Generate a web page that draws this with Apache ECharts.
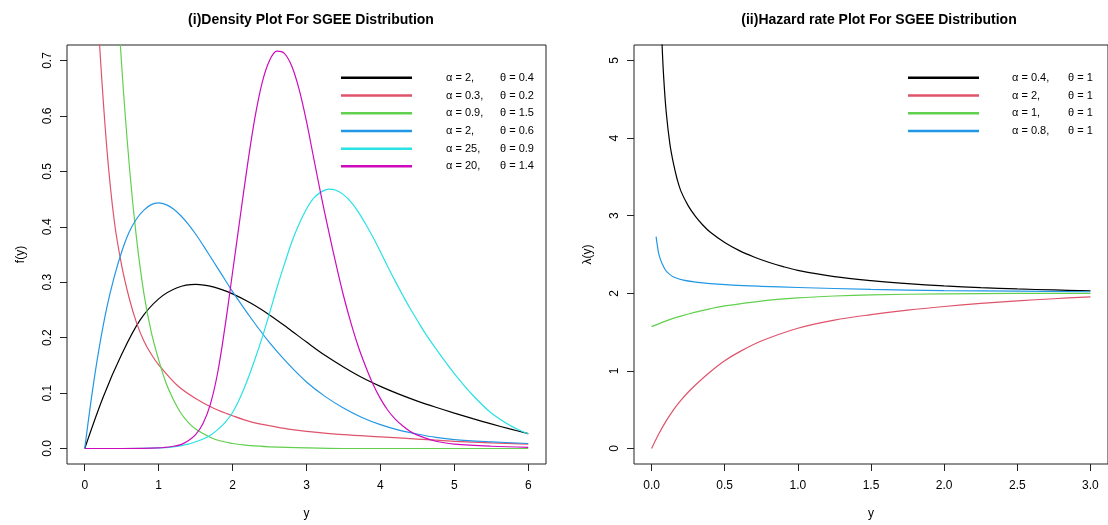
<!DOCTYPE html>
<html><head><meta charset="utf-8">
<script src="https://cdn.jsdelivr.net/npm/echarts@6/dist/echarts.min.js"></script>
<style>html,body{margin:0;padding:0;background:#fff}#c{width:1108px;height:525px}</style>
</head><body><div id="c"></div>
<script>
// ---------- tick labels ----------
const densXTicks = [0, 1, 2, 3, 4, 5, 6];
const densYTicks = [0, 0.1, 0.2, 0.3, 0.4, 0.5, 0.6, 0.7];
const hazXTicks = [0, 0.5, 1, 1.5, 2, 2.5, 3];
const hazYTicks = [0, 1, 2, 3, 4, 5];

// ---------- legend names ----------
const densNames = ['α = 2,|θ = 0.4', 'α = 0.3,|θ = 0.2', 'α = 0.9,|θ = 1.5', 'α = 2, |θ = 0.6', 'α = 25,|θ = 0.9', 'α = 20,|θ = 1.4'];
const hazNames = ['α = 0.4,|θ = 1', 'α = 2,|θ = 1', 'α = 1,|θ = 1', 'α = 0.8,|θ = 1'];
const colors = ['#000000', '#DF536B', '#61D04F', '#2297E6', '#28E2E5', '#CD0BBC'];

// ---------- (i) density values [y, f(y)] ----------
const densBlack = [[0,0],[0.25,0.093],[0.5,0.17],[0.75,0.232],[1.0,0.27],[1.25,0.29],[1.5,0.296],[1.75,0.291],[2.0,0.279],[2.25,0.262],[2.5,0.241],[2.75,0.217],[3.0,0.192],[3.25,0.168],[3.5,0.147],[3.75,0.128],[4.0,0.112],[4.25,0.098],[4.5,0.0855],[4.75,0.0743],[5.0,0.0638],[5.25,0.0538],[5.5,0.0443],[5.75,0.0353],[6.0,0.0268]];
const densRed = [[0.1,1.05],[0.15,0.86],[0.2,0.73],[0.3,0.54],[0.4,0.41],[0.5,0.33],[0.6,0.272],[0.7,0.227],[0.8,0.194],[0.9,0.17],[1.0,0.151],[1.25,0.114],[1.5,0.09],[1.75,0.072],[2.0,0.059],[2.25,0.048],[2.5,0.041],[2.75,0.035],[3.0,0.031],[3.5,0.025],[4.0,0.021],[4.5,0.017],[5.0,0.013],[5.5,0.01],[6.0,0.008]];
const densGreen = [[0.3,1.15],[0.4,0.91],[0.5,0.69],[0.6,0.515],[0.7,0.38],[0.8,0.28],[0.9,0.21],[1.0,0.16],[1.1,0.118],[1.2,0.088],[1.3,0.064],[1.4,0.047],[1.5,0.035],[1.75,0.017],[2.0,0.009],[2.25,0.005],[2.5,0.003],[3.0,0.001],[3.5,0],[4.0,0],[5.0,0],[6.0,0]];
const densBlue = [[0,0],[0.1,0.1],[0.2,0.185],[0.3,0.255],[0.4,0.31],[0.5,0.355],[0.6,0.39],[0.7,0.414],[0.8,0.43],[0.9,0.44],[1.0,0.443],[1.1,0.44],[1.2,0.432],[1.3,0.42],[1.4,0.405],[1.5,0.387],[1.6,0.367],[1.7,0.346],[1.8,0.325],[1.9,0.304],[2.0,0.283],[2.25,0.235],[2.5,0.191],[2.75,0.153],[3.0,0.12],[3.25,0.094],[3.5,0.073],[3.75,0.056],[4.0,0.043],[4.25,0.033],[4.5,0.026],[4.75,0.02],[5.0,0.016],[5.5,0.012],[6.0,0.009]];
const densCyan = [[0,0],[0.5,0],[1.0,0.001],[1.2,0.003],[1.4,0.008],[1.5,0.012],[1.6,0.017],[1.7,0.024],[1.8,0.034],[1.9,0.047],[2.0,0.065],[2.1,0.091],[2.2,0.123],[2.3,0.16],[2.4,0.2],[2.5,0.244],[2.6,0.29],[2.7,0.332],[2.8,0.372],[2.9,0.405],[3.0,0.432],[3.1,0.452],[3.2,0.463],[3.3,0.468],[3.4,0.466],[3.5,0.458],[3.6,0.445],[3.7,0.427],[3.8,0.405],[3.9,0.381],[4.0,0.355],[4.1,0.328],[4.2,0.302],[4.3,0.277],[4.4,0.253],[4.5,0.231],[4.6,0.209],[4.75,0.18],[5.0,0.135],[5.25,0.096],[5.5,0.064],[5.75,0.042],[6.0,0.026]];
const densMagenta = [[0,0],[0.5,0],[1.0,0.001],[1.2,0.004],[1.3,0.007],[1.4,0.014],[1.5,0.025],[1.6,0.045],[1.7,0.08],[1.8,0.138],[1.9,0.222],[2.0,0.318],[2.1,0.415],[2.2,0.51],[2.3,0.595],[2.4,0.66],[2.5,0.7],[2.6,0.717],[2.7,0.713],[2.8,0.69],[2.9,0.648],[3.0,0.59],[3.1,0.522],[3.2,0.455],[3.3,0.392],[3.4,0.332],[3.5,0.276],[3.6,0.227],[3.7,0.184],[3.8,0.148],[3.9,0.116],[4.0,0.09],[4.1,0.069],[4.2,0.053],[4.3,0.041],[4.4,0.031],[4.5,0.024],[4.75,0.013],[5.0,0.008],[5.5,0.004],[6.0,0.002]];

// ---------- (ii) hazard values [y, λ(y)] ----------
const hazBlack = [[0.05,6.6],[0.06,5.84],[0.072,5.2],[0.083,4.78],[0.1,4.34],[0.125,3.93],[0.15,3.67],[0.175,3.47],[0.2,3.32],[0.25,3.13],[0.3,2.99],[0.35,2.88],[0.4,2.79],[0.5,2.655],[0.6,2.55],[0.7,2.468],[0.8,2.4],[0.9,2.343],[1.0,2.296],[1.25,2.216],[1.5,2.164],[1.75,2.125],[2.0,2.095],[2.25,2.073],[2.5,2.056],[2.75,2.043],[3.0,2.033]];
const hazRed = [[0,0],[0.05,0.19],[0.1,0.355],[0.15,0.498],[0.2,0.62],[0.25,0.725],[0.3,0.818],[0.4,0.985],[0.5,1.13],[0.6,1.245],[0.75,1.385],[1.0,1.55],[1.25,1.655],[1.5,1.725],[1.75,1.783],[2.0,1.83],[2.25,1.869],[2.5,1.902],[2.75,1.93],[3.0,1.955]];
const hazGreen = [[0,1.57],[0.1,1.645],[0.2,1.705],[0.3,1.757],[0.4,1.80],[0.5,1.837],[0.75,1.9],[1.0,1.94],[1.25,1.965],[1.5,1.98],[2.0,1.993],[2.5,1.998],[3.0,2.0]];
const hazBlue = [[0.031,2.73],[0.04,2.61],[0.049,2.51],[0.06,2.44],[0.072,2.385],[0.095,2.3],[0.12,2.25],[0.151,2.21],[0.218,2.17],[0.3,2.145],[0.4,2.125],[0.556,2.105],[0.75,2.09],[1.0,2.075],[1.5,2.05],[2.0,2.035],[2.5,2.027],[3.0,2.02]];

const densData = [densBlack, densRed, densGreen, densBlue, densCyan, densMagenta];
const hazData = [hazBlack, hazRed, hazGreen, hazBlue];

const FONT = '"Liberation Sans", Arial, Helvetica, sans-serif';
const axisTxt = { color: '#000', fontSize: 12, fontFamily: FONT };

function xAxisCfg(gi, min, max, ticks, dec) {
  return {
    type: 'value', gridIndex: gi, min: min, max: max, position: 'bottom',
    name: 'y', nameLocation: 'middle', nameGap: 44,
    nameTextStyle: { color: '#000', fontSize: 12, fontFamily: FONT },
    axisLine: { show: false, onZero: false },
    splitLine: { show: false },
    axisTick: { show: true, inside: false, length: 7, customValues: ticks, lineStyle: { color: '#222', width: 1 } },
    axisLabel: { customValues: ticks, margin: 16, ...axisTxt, formatter: v => v.toFixed(dec) }
  };
}
function yAxisCfg(gi, min, max, ticks, dec, nm) {
  return {
    type: 'value', gridIndex: gi, min: min, max: max, position: 'left',
    name: nm, nameLocation: 'middle', nameGap: 40, nameRotate: 90,
    nameTextStyle: { color: '#000', fontSize: 12, fontFamily: FONT },
    axisLine: { show: false, onZero: false },
    splitLine: { show: false },
    axisTick: { show: true, inside: false, length: 7, customValues: ticks, lineStyle: { color: '#222', width: 1 } },
    axisLabel: { customValues: ticks, margin: 13, rotate: 90, ...axisTxt, formatter: v => v.toFixed(dec) }
  };
}
function legendCfg(names, left, padA, widthA) {
  return {
    data: names, orient: 'vertical', left: left, top: 69, padding: 0,
    icon: 'rect', itemWidth: 71, itemHeight: 2.5, itemGap: 0,
    selectedMode: false,
    formatter: n => { const p = n.split('|'); return '{a|' + p[0] + '}{b|' + p[1] + '}'; },
    textStyle: {
      fontFamily: FONT, fontSize: 11, color: '#000', lineHeight: 17.7,
      rich: {
        a: { fontFamily: FONT, fontSize: 11, color: '#000', width: widthA, padding: [0, 0, 0, padA], lineHeight: 17.7 },
        b: { fontFamily: FONT, fontSize: 11, color: '#000', lineHeight: 17.7 }
      }
    }
  };
}

const series = [];
densData.forEach((d, i) => series.push({
  name: densNames[i], type: 'line', xAxisIndex: 0, yAxisIndex: 0, data: d,
  showSymbol: false, smooth: 0.35, clip: true, animation: false,
  lineStyle: { color: colors[i], width: 1.2 }, itemStyle: { color: colors[i] }
}));
hazData.forEach((d, i) => series.push({
  name: hazNames[i], type: 'line', xAxisIndex: 1, yAxisIndex: 1, data: d,
  showSymbol: false, smooth: 0.35, clip: true, animation: false,
  lineStyle: { color: colors[i], width: 1.2 }, itemStyle: { color: colors[i] }
}));

const chart = echarts.init(document.getElementById('c'), null, { renderer: 'canvas' });
chart.setOption({
  backgroundColor: '#fff',
  animation: false,
  title: [
    { text: '(i)Density Plot For SGEE Distribution', left: 306, top: 8, textAlign: 'center',
      textStyle: { fontFamily: FONT, fontSize: 14, fontWeight: 'bold', color: '#000' } },
    { text: '(ii)Hazard rate Plot For SGEE Distribution', left: 874, top: 8, textAlign: 'center',
      textStyle: { fontFamily: FONT, fontSize: 14, fontWeight: 'bold', color: '#000' } }
  ],
  grid: [
    { left: 67, top: 45, width: 479, height: 420, show: true, borderColor: '#222', borderWidth: 1, backgroundColor: 'transparent' },
    { left: 634, top: 45, width: 480, height: 420, show: true, borderColor: '#222', borderWidth: 1, backgroundColor: 'transparent' }
  ],
  xAxis: [xAxisCfg(0, -0.24, 6.24, densXTicks, 0), xAxisCfg(1, -0.12, 3.12, hazXTicks, 1)],
  yAxis: [yAxisCfg(0, -0.028, 0.728, densYTicks, 1, 'f(y)'), yAxisCfg(1, -0.2, 5.2, hazYTicks, 0, 'λ(y)')],
  legend: [legendCfg(densNames, 341, 29, 54), legendCfg(hazNames, 908, 28, 56)],
  series: series
});
</script></body></html>
